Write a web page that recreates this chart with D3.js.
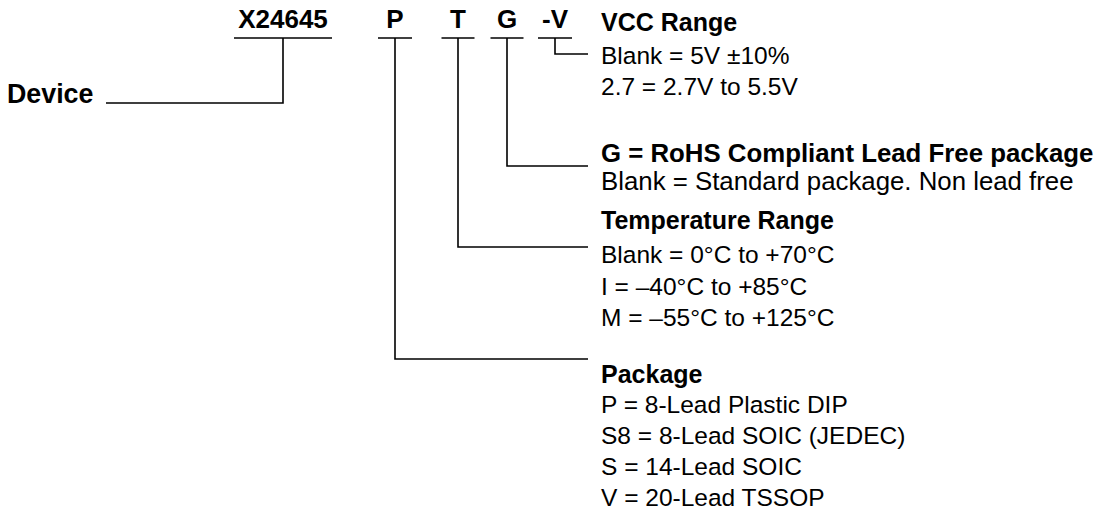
<!DOCTYPE html>
<html>
<head>
<meta charset="utf-8">
<script src="https://cdn.jsdelivr.net/npm/d3@7"></script>
<style>
  html, body { margin: 0; padding: 0; background: #fff; }
  svg { display: block; font-family: "Liberation Sans", Arial, Helvetica, sans-serif; }
</style>
</head>
<body>
<svg id="chart"></svg>
<script>
// Campos do código de pedido
const fieldCodes = ["X24645", "P", "T", "G", "-V"];
const deviceLabel = "Device";

// Seções de descrição (título + opções)
const vccTitle = "VCC Range";
const vccOptions = ["Blank = 5V \u00b110%", "2.7 = 2.7V to 5.5V"];

const leadTitle = "G = RoHS Compliant Lead Free package";
const leadOptions = ["Blank = Standard package. Non lead free"];

const tempTitle = "Temperature Range";
const tempOptions = ["Blank = 0\u00b0C to +70\u00b0C", "I = \u201340\u00b0C to +85\u00b0C", "M = \u201355\u00b0C to +125\u00b0C"];

const pkgTitle = "Package";
const pkgOptions = ["P = 8-Lead Plastic DIP", "S8 = 8-Lead SOIC (JEDEC)", "S = 14-Lead SOIC", "V = 20-Lead TSSOP"];

const width = 1116;
const height = 516;

const svg = d3.select("#chart")
  .attr("width", width)
  .attr("height", height);

// posição horizontal de cada campo (centro) e largura do traço
const fieldX = d3.scaleOrdinal().domain(fieldCodes).range([283, 395, 458, 507, 555]);
const fieldW = d3.scaleOrdinal().domain(fieldCodes).range([98, 34, 33, 33, 34]);
const underlineY = 38;
const textX = 601;
const lineEnd = 588;

const lines = svg.append("g")
  .attr("fill", "none")
  .attr("stroke", "#000")
  .attr("stroke-width", 1.6);

// códigos no topo
svg.selectAll("text.code")
  .data(fieldCodes)
  .enter()
  .append("text")
  .attr("class", "code")
  .attr("x", d => fieldX(d))
  .attr("y", 28)
  .attr("text-anchor", "middle")
  .attr("font-weight", "bold")
  .attr("font-size", 26)
  .text(d => d);

lines.selectAll("line.under")
  .data(fieldCodes)
  .enter()
  .append("line")
  .attr("x1", d => fieldX(d) - fieldW(d) / 2)
  .attr("x2", d => fieldX(d) + fieldW(d) / 2)
  .attr("y1", underlineY)
  .attr("y2", underlineY);

// conectores: campo -> altura da linha horizontal
const connectors = [
  { code: "X24645", y: 103, to: 106 },
  { code: "-V", y: 54, to: lineEnd },
  { code: "G", y: 166, to: lineEnd },
  { code: "T", y: 247, to: lineEnd },
  { code: "P", y: 359, to: lineEnd }
];

lines.selectAll("path.conn")
  .data(connectors)
  .enter()
  .append("path")
  .attr("d", d => `M${fieldX(d.code)},${underlineY}V${d.y}H${d.to}`);

svg.append("text")
  .attr("x", 7)
  .attr("y", 103)
  .attr("font-weight", "bold")
  .attr("font-size", 26.8)
  .text(deviceLabel);

// blocos de texto à direita
function block(title, options, titleY, firstY, step, titleSize, size) {
  const g = svg.append("g");
  g.append("text")
    .attr("x", textX)
    .attr("y", titleY)
    .attr("font-weight", "bold")
    .attr("font-size", titleSize)
    .text(title);
  g.selectAll("text.opt")
    .data(options)
    .enter()
    .append("text")
    .attr("class", "opt")
    .attr("x", textX)
    .attr("y", (d, i) => firstY + i * step)
    .attr("font-size", size)
    .text(d => d);
}

block(vccTitle, vccOptions, 31, 64, 31, 25, 24.5);
block(leadTitle, leadOptions, 162, 190, 30, 25.8, 25.8);
block(tempTitle, tempOptions, 229, 263, 31.5, 25, 24.5);
block(pkgTitle, pkgOptions, 383, 413, 31, 25, 24.5);
</script>
</body>
</html>
